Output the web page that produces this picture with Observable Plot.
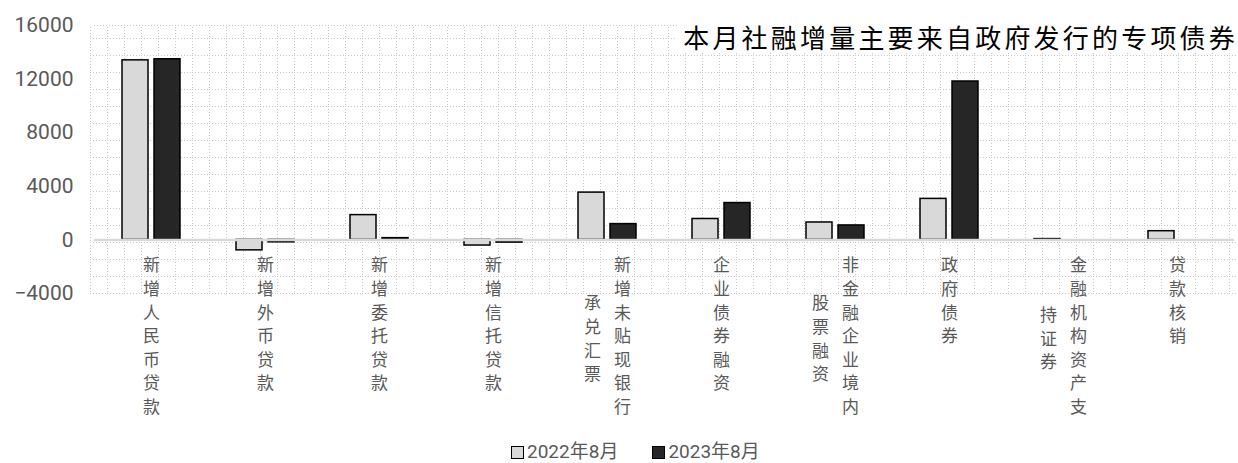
<!DOCTYPE html>
<html><head><meta charset="utf-8">
<script src="https://cdn.jsdelivr.net/npm/d3@7"></script>
<script src="https://cdn.jsdelivr.net/npm/@observablehq/plot@0.6"></script>
<style>
body{margin:0;background:#fff;}
#wrap{position:relative;width:1238px;height:463px;overflow:hidden;}
#title{position:absolute;right:0;top:20px;height:33px;line-height:33px;background:#fff;padding-left:6px;
  font-family:"Noto Sans CJK SC",sans-serif;font-size:26px;letter-spacing:3.2px;color:#000;white-space:nowrap;}
#legend{position:absolute;left:511px;top:442px;display:flex;align-items:center;gap:34px;
  font-family:Roboto,"Noto Sans CJK SC",sans-serif;font-size:19px;color:#595959;line-height:20px;}
#legend .it{display:flex;align-items:center;}
#legend .sw{width:11px;height:11px;border:1.5px solid #000;margin-right:3px;}
</style></head>
<body><div id="wrap"><div id="chart"></div><div id="title"></div><div id="legend"></div></div>
<script>
const categories = ["新增人民币贷款","新增外币贷款","新增委托贷款","新增信托贷款","新增未贴现银行承兑汇票","企业债券融资","非金融企业境内股票融资","政府债券","金融机构资产支持证券","贷款核销"];
const series = ["2022年8月","2023年8月"];
const values2022 = [13400, -780, 1850, -420, 3530, 1560, 1300, 3060, 60, 650];
const values2023 = [13480, -180, 130, -200, 1180, 2750, 1080, 11820, 0, null];
const yTicks = [-4000, 0, 4000, 8000, 12000, 16000];
const titleText = "本月社融增量主要来自政府发行的专项债券";
const seriesColors = ["#d9d9d9", "#262626"];

const rows = categories.flatMap((c, i) => [
  {cat: c, s: series[0], v: values2022[i]},
  {cat: c, s: series[1], v: values2023[i]}
]).filter(d => d.v != null);

const colLen = 7;
const labels = categories.map(c => {
  const ch = [...c];
  return {cat: c, a: ch.slice(0, colLen).join("\n"), b: ch.slice(colLen).join("\n")};
});
const singles = labels.filter(d => !d.b);
const doubles = labels.filter(d => d.b);

const fs = 17, lh = 1.39, topDy = -39;
const labelStyle = {fontFamily: "Noto Sans CJK SC", fontSize: fs, fill: "#595959", lineHeight: lh, frameAnchor: "bottom"};
const gridColor = "#c8c8c8", gridStep = 17;

const chart = Plot.plot({
  width: 1238, height: 440,
  marginTop: 25, marginBottom: 147, marginLeft: 90, marginRight: 0,
  style: {fontFamily: "Roboto, 'Noto Sans CJK SC', sans-serif", background: "transparent", overflow: "visible"},
  fx: {domain: categories, paddingInner: 0, paddingOuter: 0, axis: null},
  x: {domain: series, paddingInner: 0.18, paddingOuter: 0.83, axis: null},
  y: {domain: [-4000, 16000], axis: null},
  color: {domain: series, range: seriesColors},
  marks: [
    Plot.ruleY([16000], {stroke: gridColor, strokeDasharray: "1,2"}),
    Plot.barY(rows, {fx: "cat", x: "s", y: "v", fill: "s", stroke: "#000", strokeWidth: 1.5}),
    Plot.ruleY([0], {stroke: "#d9d9d9", strokeWidth: 2.5}),
    Plot.text(singles, {...labelStyle, fx: "cat", text: "a", lineAnchor: "top", dy: topDy}),
    Plot.text(doubles, {...labelStyle, fx: "cat", text: "a", lineAnchor: "top", dy: topDy, dx: 15}),
    Plot.text(doubles, {...labelStyle, fx: "cat", text: "b", lineAnchor: "middle", dy: topDy + fs * lh * colLen / 2, dx: -15}),
    Plot.axisY({ticks: yTicks, tickSize: 0, tickPadding: 21, fontSize: 21, fill: "#595959", label: null,
      tickFormat: d => String(d).replace("-", "\u2212")})
  ]
});

// decorative dotted background grid over the plot frame
const fx = chart.scale("fx"), ys = chart.scale("y");
const x0 = fx.range[0], x1 = fx.range[1], yb = ys.range[0], yt = ys.range[1];
const svg = d3.select(chart);
const defs = svg.insert("defs", ":first-child");
const pat = defs.append("pattern").attr("id", "dotgrid").attr("patternUnits", "userSpaceOnUse")
  .attr("width", gridStep).attr("height", gridStep).attr("x", x0).attr("y", yb - gridStep);
pat.append("line").attr("x1", 0).attr("x2", gridStep).attr("y1", 0.5).attr("y2", 0.5)
  .attr("stroke", gridColor).attr("stroke-dasharray", "1,2").attr("shape-rendering", "crispEdges");
pat.append("line").attr("x1", 0.5).attr("x2", 0.5).attr("y1", 0).attr("y2", gridStep)
  .attr("stroke", gridColor).attr("stroke-dasharray", "1,2").attr("shape-rendering", "crispEdges");
svg.insert("rect", "g").attr("x", x0).attr("y", yt).attr("width", x1 - x0).attr("height", yb - yt + 1)
  .attr("fill", "url(#dotgrid)");

document.getElementById("chart").appendChild(chart);
document.getElementById("title").textContent = titleText;

const lg = document.getElementById("legend");
series.forEach((s, i) => {
  const it = document.createElement("div"); it.className = "it";
  const sw = document.createElement("div"); sw.className = "sw"; sw.style.background = seriesColors[i];
  const t = document.createElement("span"); t.textContent = s;
  it.appendChild(sw); it.appendChild(t); lg.appendChild(it);
});
</script>
</body></html>
